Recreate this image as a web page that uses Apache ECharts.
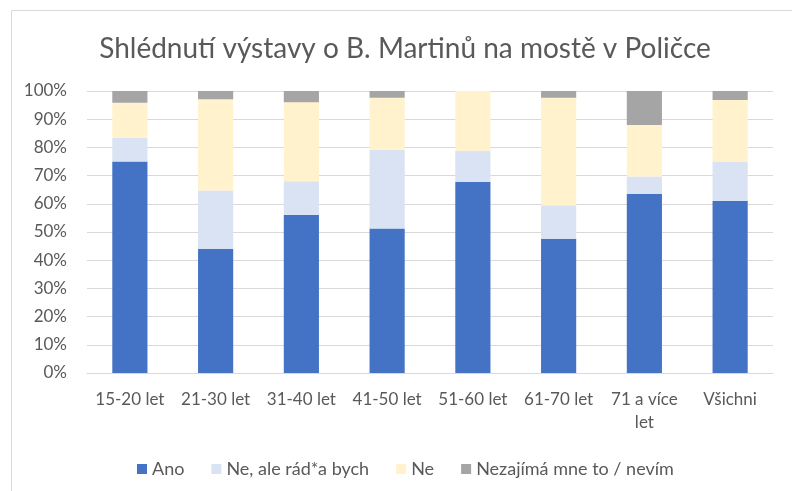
<!DOCTYPE html>
<html>
<head>
<meta charset="utf-8">
<script src="https://cdn.jsdelivr.net/npm/echarts@6/dist/echarts.min.js"></script>
<style>html,body{margin:0;padding:0;background:#fff}#c{width:792px;height:491px}</style>
</head>
<body>
<div id="c"></div>
<script>
const categories = ['15-20 let','21-30 let','31-40 let','41-50 let','51-60 let','61-70 let','71 a více let','Všichni'];
const seriesNames = ['Ano','Ne, ale rád*a bych','Ne','Nezajímá mne to / nevím'];
const ano   = [75.0, 44.1, 56.0, 51.2, 67.7, 47.6, 63.6, 61.0];
const neAle = [8.3, 20.6, 12.0, 28.0, 11.1, 11.9, 6.1, 14.0];
const ne    = [12.5, 32.4, 28.0, 18.4, 21.2, 38.1, 18.2, 21.8];
const nez   = [4.2, 2.9, 4.0, 2.4, 0, 2.4, 12.1, 3.2];
const colors = ['#4472C4','#DAE3F3','#FFF2CC','#A5A5A5'];
const FONT = 'Lato';
const chart = echarts.init(document.getElementById('c'));
const values = [ano, neAle, ne, nez];
chart.setOption({
  animation: false,
  backgroundColor: '#fff',
  title: {
    text: 'Shlédnutí výstavy o B. Martinů na mostě v Poličce',
    left: 400, textAlign: 'center', top: 30,
    textStyle: {fontFamily: FONT, fontSize: 28, fontWeight: 'normal', color: '#595959'}
  },
  graphic: [{type: 'rect', shape: {x: 11.5, y: 10.5, width: 800, height: 500}, style: {fill: 'none', stroke: '#d9d9d9', lineWidth: 1}, silent: true}],
  legend: {
    top: 455, left: 132, itemWidth: 10, itemHeight: 10, itemGap: 27,
    icon: 'rect',
    textStyle: {fontFamily: FONT, fontSize: 18, color: '#595959'},
    data: seriesNames
  },
  grid: {left: 87, right: 19, top: 91, bottom: 118, containLabel: false},
  xAxis: {
    type: 'category', data: categories,
    axisLine: {lineStyle: {color: '#d9d9d9'}},
    axisTick: {show: false},
    axisLabel: {fontFamily: FONT, fontSize: 17, color: '#595959', margin: 15, lineHeight: 23, interval: 0,
      formatter: v => v === '71 a více let' ? '71 a více\nlet' : v}
  },
  yAxis: {
    type: 'value', min: 0, max: 100, interval: 10,
    axisLine: {show: false}, axisTick: {show: false},
    splitLine: {lineStyle: {color: '#d9d9d9', width: 1}},
    axisLabel: {fontFamily: FONT, fontSize: 17, color: '#595959', margin: 20, formatter: '{value}%'}
  },
  series: seriesNames.map((n, i) => ({
    name: n, type: 'bar', stack: 'total', data: values[i],
    barWidth: '41%',
    itemStyle: {color: colors[i]}
  }))
});
</script>
</body>
</html>
